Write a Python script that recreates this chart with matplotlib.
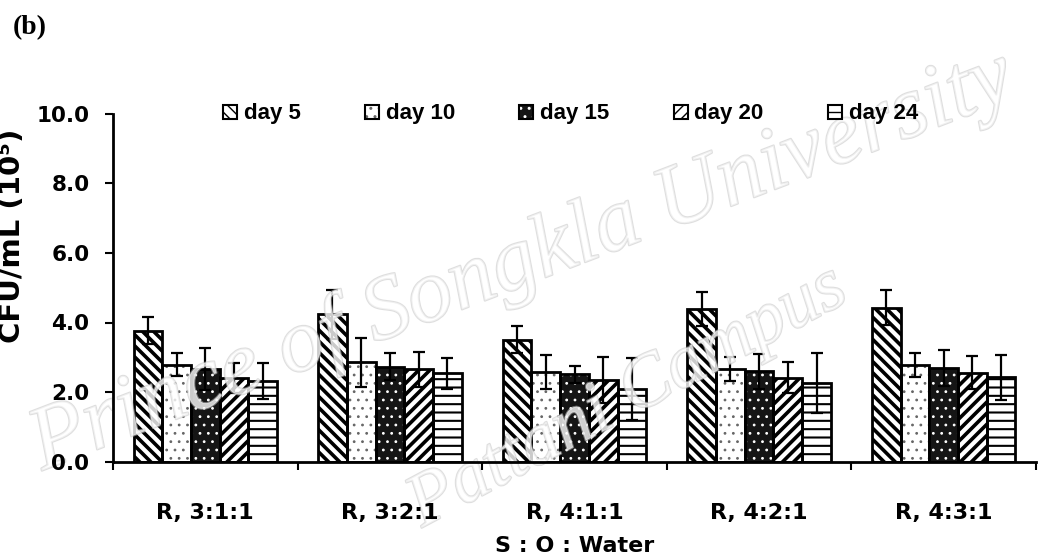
import numpy as np
import matplotlib
matplotlib.use("Agg")
import matplotlib.pyplot as plt
import matplotlib.patheffects as pe
from matplotlib.patches import Patch

# CFU counts (x10^5 per mL) by S:O:Water ratio and sampling day
ratios = ['R, 3:1:1', 'R, 3:2:1', 'R, 4:1:1', 'R, 4:2:1', 'R, 4:3:1']
days = ['day 5', 'day 10', 'day 15', 'day 20', 'day 24']

day5 = [3.77, 4.23, 3.50, 4.40, 4.43]
day10 = [2.79, 2.86, 2.59, 2.67, 2.78]
day15 = [2.67, 2.73, 2.51, 2.60, 2.70]
day20 = [2.41, 2.65, 2.35, 2.41, 2.56]
day24 = [2.32, 2.54, 2.08, 2.26, 2.43]

err5 = [0.40, 0.70, 0.39, 0.49, 0.50]
err10 = [0.32, 0.70, 0.49, 0.34, 0.35]
err15 = [0.60, 0.39, 0.24, 0.50, 0.52]
err20 = [0.44, 0.49, 0.65, 0.45, 0.48]
err24 = [0.53, 0.45, 0.89, 0.86, 0.65]

values = [day5, day10, day15, day20, day24]
errors = [err5, err10, err15, err20, err24]

# fill, hatch, hatch colour, hatch line width for each day
styles = [
    ('white', '\\\\\\', 'black', 2.6),
    ('white', '..', '#666666', 0.8),
    ('#151515', '..', 'white', 0.8),
    ('white', '///', 'black', 2.6),
    ('white', '--', 'black', 1.5),
]

W, H = 1038, 560
fig = plt.figure(figsize=(W / 100, H / 100), dpi=100)
ax = fig.add_axes([113 / W, (H - 461.7) / H, (1036 - 113) / W, 348 / H])

x = np.arange(len(ratios)) + 0.5
bw = 0.1555
handles = []
for i, (vals, errs, (fc, hatch, hc, hlw)) in enumerate(zip(values, errors, styles)):
    pos = x + (i - 2) * bw
    with plt.rc_context({'hatch.linewidth': hlw}):
        # hatch layer first, outline on top so hatch colour can differ from edge
        ax.bar(pos, vals, bw, color=fc, edgecolor=hc, hatch=hatch, linewidth=0, zorder=2)
        hp = Patch(facecolor=fc, edgecolor=hc, hatch=hatch, linewidth=0)
    ax.bar(pos, vals, bw, facecolor='none', edgecolor='black', linewidth=2.0, zorder=3)
    ax.errorbar(pos, vals, yerr=errs, fmt='none', ecolor='black', elinewidth=1.6,
                capsize=4, capthick=1.6, zorder=4)
    handles.append((hp, Patch(facecolor='none', edgecolor='black', linewidth=1.5)))

ax.set_xlim(0, 5)
ax.set_ylim(0, 10)
ax.set_yticks(np.arange(0, 10.1, 2))
ax.set_yticklabels(['%.1f' % v for v in np.arange(0, 10.1, 2)])
ax.set_xticks(x)
ax.set_xticklabels(ratios)
ax.set_xticks(np.arange(0, 6), minor=True)
ax.tick_params(axis='x', which='major', length=0, pad=30)
ax.tick_params(axis='x', which='minor', length=6, width=1.5, direction='out')
ax.tick_params(axis='y', length=6, width=1.5, direction='out', pad=11)
for lab in ax.get_xticklabels():
    lab.set_fontfamily('DejaVu Sans')
    lab.set_fontweight('bold')
    lab.set_fontsize(16)
for lab in ax.get_yticklabels():
    lab.set_fontfamily('DejaVu Sans')
    lab.set_fontweight('bold')
    lab.set_fontsize(15.5)

for side in ['top', 'right']:
    ax.spines[side].set_visible(False)
for side in ['left', 'bottom']:
    ax.spines[side].set_linewidth(2.0)
    ax.spines[side].set_zorder(6)
# keep tick labels and axis titles above the watermark
ax.xaxis.set_zorder(6)
ax.yaxis.set_zorder(6)

ax.set_xlabel('S : O : Water', fontfamily='DejaVu Sans', fontweight='bold',
              fontsize=16, labelpad=9)

fig.text(12 / W, 1 - 236 / H, 'CFU/mL (10\u2075)', rotation=90, ha='center', va='center',
         fontfamily='DejaVu Sans', fontweight='bold', fontsize=21)
fig.text(13 / W, 1 - 15 / H, '(b)', ha='left', va='top',
         fontfamily='Liberation Serif', fontweight='bold', fontsize=20)

fig.legend(handles, days, loc='center left', bbox_to_anchor=(223 / W, 1 - 114 / H),
           ncol=5, frameon=False, borderpad=0, borderaxespad=0,
           handlelength=0.63, handleheight=0.6, handletextpad=0.3, columnspacing=2.9,
           prop={'family': 'Liberation Sans', 'weight': 'bold', 'size': 16})

# faint outlined repository watermark, over the bars but under the labels
outline = [pe.Stroke(linewidth=1.5, foreground='#c4c4c4'), pe.Normal()]
ax.text(522 / W, 1 - 262 / H, 'Prince of Songkla University', rotation=21,
        transform=fig.transFigure, clip_on=False, ha='center', va='center',
        fontfamily='Liberation Serif', style='italic', fontsize=65,
        color='white', alpha=0.55, path_effects=outline, zorder=5)
ax.text(628 / W, 1 - 398 / H, 'Pattani Campus', rotation=28,
        transform=fig.transFigure, clip_on=False, ha='center', va='center',
        fontfamily='Liberation Serif', style='italic', fontsize=54,
        color='white', alpha=0.55, path_effects=outline, zorder=5)

fig.savefig('out.png', dpi=100)
